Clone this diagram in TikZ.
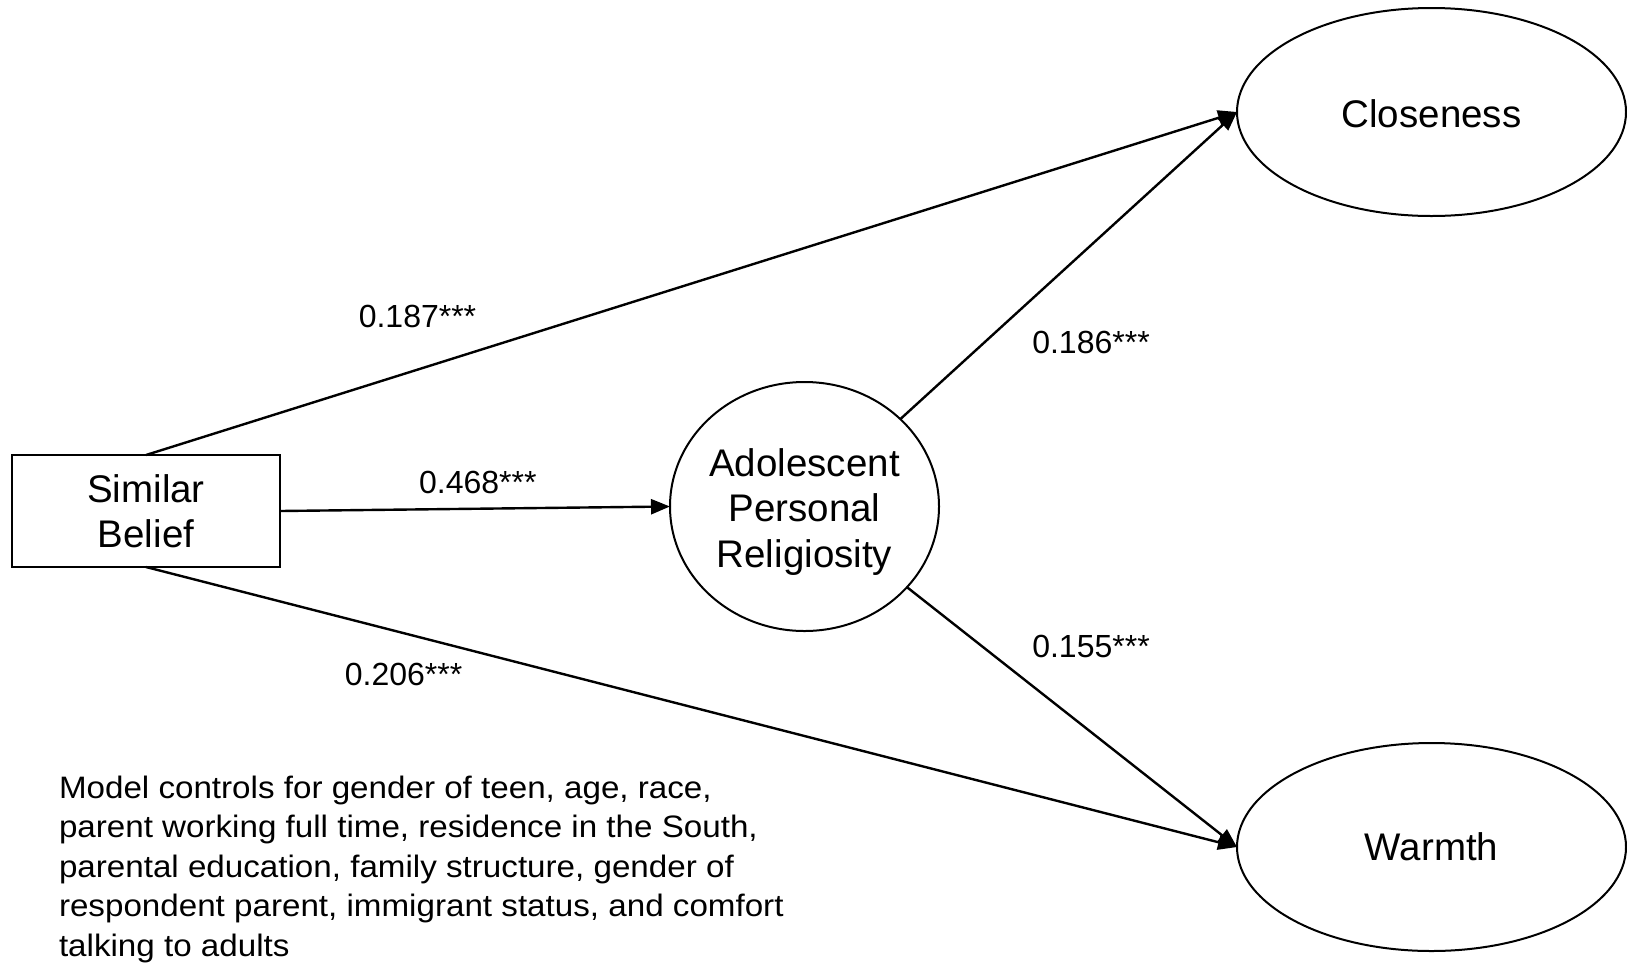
\documentclass[tikz,border=0pt]{standalone}
\usepackage{fontspec}
\setmainfont{Liberation Sans}
\newfontfamily\notefont[FakeStretch=1.07]{Liberation Sans}
\usetikzlibrary{arrows.meta,shapes.geometric}

\begin{document}
\begin{tikzpicture}[x=1pt,y=-1pt,
  every node/.style={inner sep=0pt, outer sep=0pt},
  varfont/.style={font=\fontsize{38.5}{45.5}\selectfont},
  varbox/.style={draw, line width=2pt, rectangle, minimum width=268pt,
    minimum height=112pt, align=center, font=\fontsize{38.5}{44.5}\selectfont},
  latent/.style={draw, line width=2pt, ellipse},
  effect/.style={line width=2.4pt, -{Triangle[length=19pt,width=15pt]}},
  coef/.style={font=\fontsize{32}{38}\selectfont}
]
\useasboundingbox (0,0) rectangle (1627,962);

% variables
\node[varbox] (belief) at (146,511) {Similar\\Belief};
\node[latent, minimum width=269pt, minimum height=249pt,
  label={[varfont, align=center, yshift=-5.5pt]center:Adolescent\\Personal\\Religiosity}]
  (adol) at (804.5,506.5) {};
\node[latent, minimum width=389pt, minimum height=208pt,
  label={[varfont, yshift=-2pt]center:Closeness}] (clos) at (1431.5,112) {};
\node[latent, minimum width=389pt, minimum height=208pt,
  label={[varfont]center:Warmth}] (warm) at (1431.5,847) {};

% paths
\draw[effect] (belief.north) -- (clos.west);
\draw[effect] (belief.east) -- (adol.west);
\draw[effect] (belief.south) -- (warm.west);
\draw[effect] (adol) -- (clos.west);
\draw[effect] (adol) -- (warm.west);

% coefficients
\node[coef] (c187) at (417.5,316) {0.187***};
\node[coef] (c468) at (477.8,482) {0.468***};
\node[coef] (c206) at (403.6,674.5) {0.206***};
\node[coef] (c186) at (1091,342.5) {0.186***};
\node[coef] (c155) at (1091,646.5) {0.155***};

% note on controls
\node[anchor=north west, align=left, font=\notefont\fontsize{31}{39.4}\selectfont]
  (note) at (59,776)
  {Model controls for gender of teen, age, race,\\
   parent working full time, residence in the South,\\
   parental education, family structure, gender of\\
   respondent parent, immigrant status, and comfort\\
   talking to adults};
\end{tikzpicture}
\end{document}
